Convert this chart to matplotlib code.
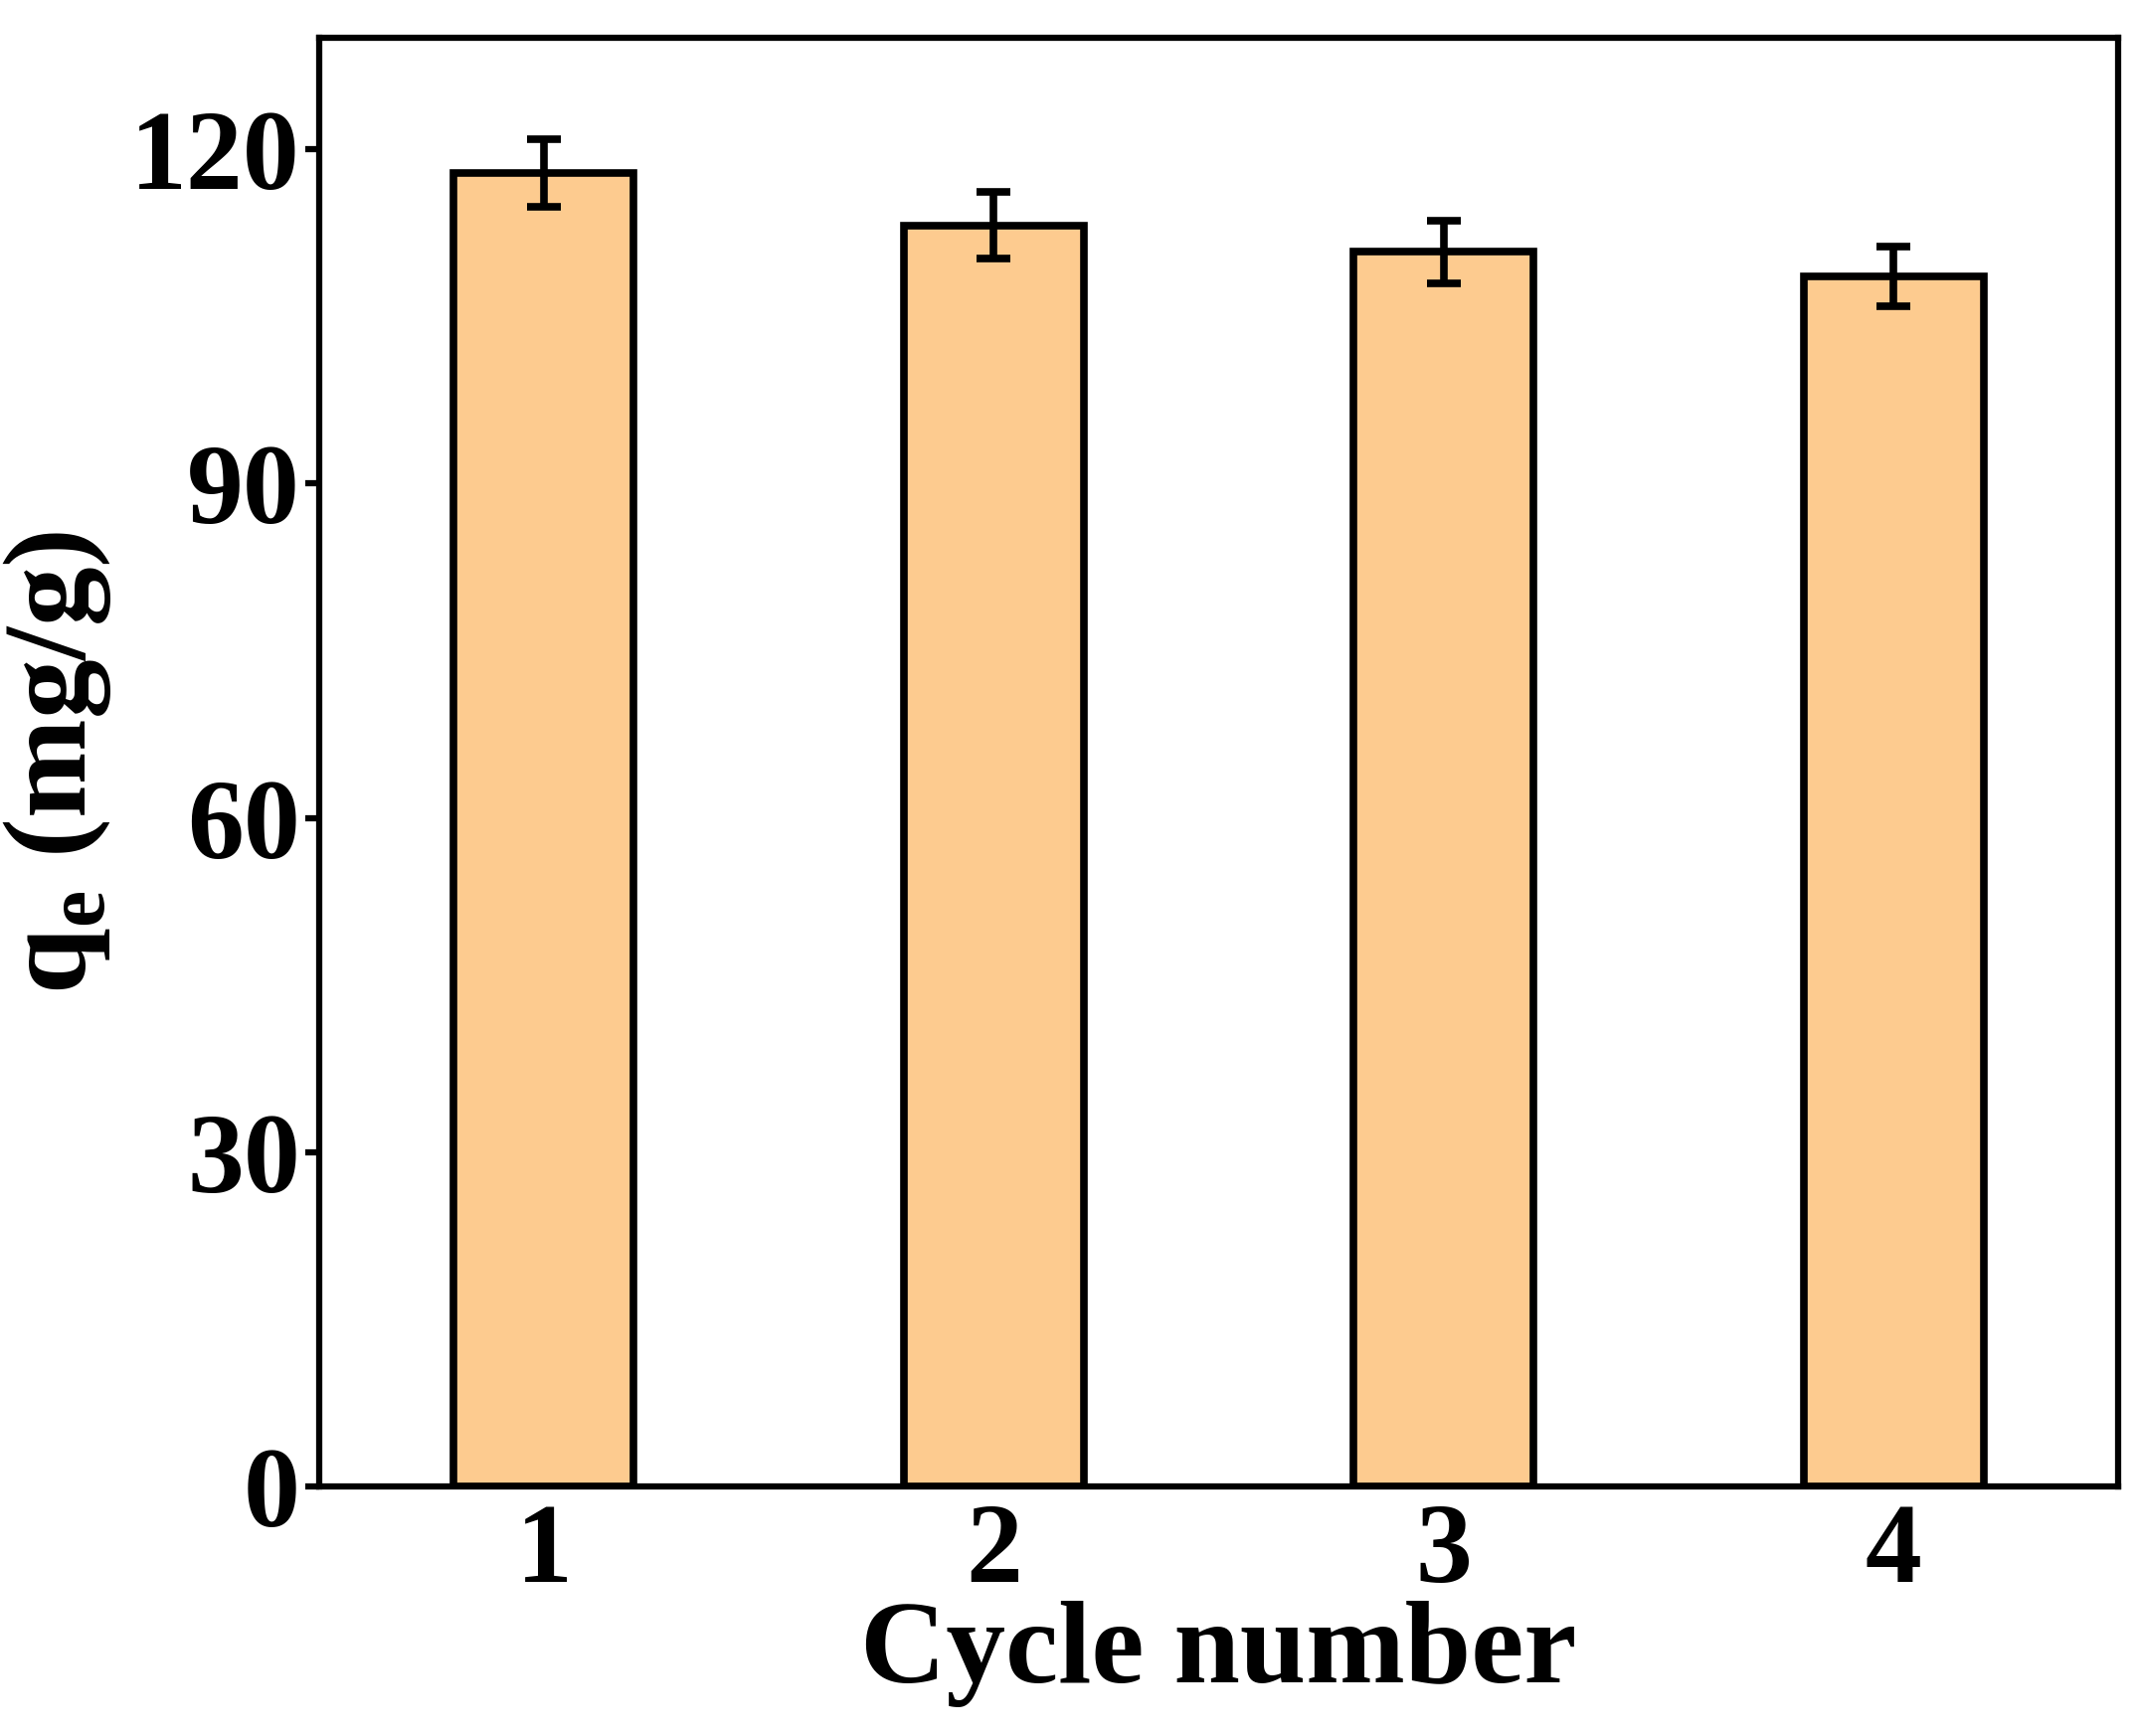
import matplotlib
matplotlib.use("Agg")
import matplotlib.pyplot as plt

cycles = [1, 2, 3, 4]
qe = [117.9, 113.2, 110.8, 108.6]
err = [3.0, 3.0, 2.8, 2.7]
yticks = [0, 30, 60, 90, 120]

plt.rcParams['font.family'] = ['Liberation Serif', 'DejaVu Serif']
plt.rcParams['font.weight'] = 'bold'
fig = plt.figure(figsize=(21.52, 17.46), dpi=100)
ax = fig.add_axes([0.149, 0.144, 0.841, 0.834])
ax.bar(cycles, qe, width=0.4, color='#FDCB8F', edgecolor='black', linewidth=5.5,
       yerr=err, error_kw=dict(ecolor='black', elinewidth=5.5, capsize=12, capthick=5.5))
ax.set_xlim(0.5, 4.5)
ax.set_ylim(0, 130)
ax.set_xticks(cycles)
ax.set_yticks(yticks)
ax.tick_params(axis='both', labelsize=82, width=4.5, length=10, direction='out')
ax.tick_params(axis='x', length=0, pad=12)
for lab in ax.get_xticklabels() + ax.get_yticklabels():
    lab.set_fontweight('bold')
for s in ax.spines.values():
    s.set_linewidth(4.5)
ax.set_xlabel('Cycle number', fontsize=86, fontweight='bold', labelpad=-4)
ax.set_ylabel(r'q$_\mathregular{e}$ (mg/g)', fontsize=86, fontweight='bold', labelpad=12)
fig.savefig('out.png', dpi=100)
